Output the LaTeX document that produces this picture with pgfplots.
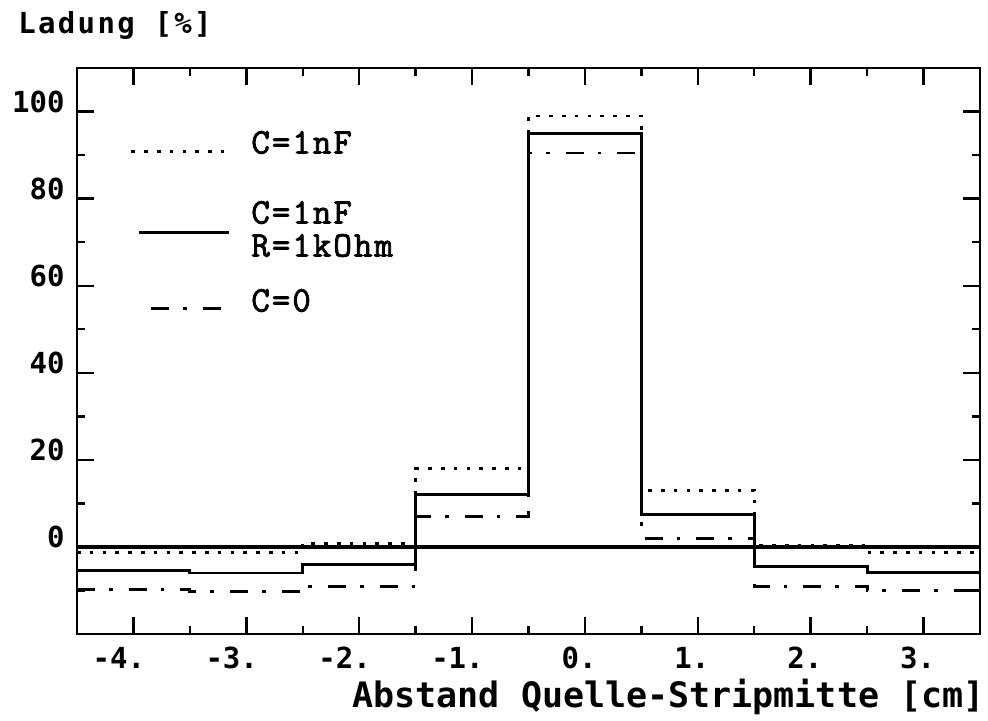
\documentclass[border=0pt]{standalone}
\usepackage{fontspec}
\usepackage{pgfplots}
\pgfplotsset{compat=1.18}

\newfontfamily\monosans{DejaVu Sans Mono}
\newfontfamily\legtt{Latin Modern Mono}[FakeBold=2.2, LetterSpace=5.5]
\newcommand\tickfont{\monosans\bfseries\fontsize{14.5pt}{17pt}\selectfont}
\newcommand\xlabfont{\monosans\bfseries\fontsize{17.5pt}{20pt}\selectfont}
\newcommand\ylabfont{\monosans\bfseries\fontsize{14.5pt}{17pt}\selectfont\addfontfeature{LetterSpace=8}}
\newcommand\legfont{\legtt\fontsize{18pt}{16.5pt}\selectfont}

% legend samples: each one spans its own stretch, text column starts at 60pt
\pgfplotsset{
  legdotted/.style={legend image code/.code={\path[draw=none,fill=none] (0pt,0pt) rectangle (60pt,0pt);
    \draw[##1] (0pt,1pt) -- (46.5pt,1pt);}},
  legsolid/.style={legend image code/.code={\path[draw=none,fill=none] (0pt,0pt) rectangle (60pt,0pt);
    \draw[##1] (4pt,0.5pt) -- (49pt,0.5pt);}},
  legdashdot/.style={legend image code/.code={\path[draw=none,fill=none] (0pt,0pt) rectangle (60pt,0pt);
    \draw[##1] (10pt,1.5pt) -- (51.5pt,1.5pt);}},
}

\begin{document}
\begin{tikzpicture}
\useasboundingbox (-38.5pt,-43pt) rectangle (455.5pt,317pt);
\begin{axis}[
  scale only axis, width=451.5pt, height=283pt,
  xmin=-4.5, xmax=3.5, ymin=-20, ymax=110,
  axis line style={line width=1.4pt},
  xtick={-4,-3,-2,-1,0,1,2,3},
  xticklabels={-4.,-3.,-2.,-1.,0.,1.,2.,3.},
  minor xtick={-3.5,-2.5,-1.5,-0.5,0.5,1.5,2.5},
  ytick={0,20,40,60,80,100},
  yticklabels={0,20,40,60,80,100},
  minor ytick={-10,10,30,50,70,90},
  tick align=inside, tick pos=both,
  major tick length=8.5pt, minor tick length=4pt,
  tick style={black, line width=1.2pt},
  ticklabel style={font=\tickfont, inner sep=0pt},
  xticklabel style={anchor=north east, xshift=6pt, yshift=-6.5pt},
  yticklabel style={anchor=east, xshift=-6pt, yshift=5pt},
  legend cell align=left,
  legend style={draw=none, fill=none, inner sep=0pt, outer sep=0pt,
    at={(axis cs:-4.031,98.4)}, anchor=north west,
    font=\legfont, nodes={inner sep=0pt, text depth=}, row sep=0pt, column sep=0pt},
]
% baseline at zero charge
\addplot[line width=1.6pt, forget plot] coordinates {(-4.5,0) (3.5,0)};

% C = 1 nF
\addplot[const plot mark left, line width=1.4pt, line cap=butt,
  dash pattern=on 1.8pt off 4.6pt, legdotted]
  coordinates {(-4.5,-1.3) (-3.5,-1.3) (-2.5,0.7) (-1.5,18) (-0.5,99)
               (0.5,13) (1.5,0.3) (2.5,-1.3) (3.5,-1.3)};
\addlegendentry{\rule[-17.5pt]{0pt}{35pt}C=1nF}

% C = 1 nF, R = 1 kOhm
\addplot[const plot mark left, line width=1.4pt, legsolid]
  coordinates {(-4.5,-5.5) (-3.5,-6) (-2.5,-4) (-1.5,12) (-0.5,95)
               (0.5,7.5) (1.5,-4.5) (2.5,-5.8) (3.5,-5.8)};
\addlegendentry{\rule[-11pt]{0pt}{45pt}{\begin{tabular}[b]{@{}l@{}}C=1nF\\R=1kOhm\end{tabular}}}

% C = 0
\addplot[const plot mark left, line width=1.4pt, line cap=butt,
  dash pattern=on 9pt off 7pt on 1.8pt off 8pt, legdashdot]
  coordinates {(-4.5,-9.8) (-3.5,-10.2) (-2.5,-9) (-1.5,7) (-0.5,90.5)
               (0.5,2) (1.5,-9) (2.5,-10) (3.5,-10)};
\addlegendentry{\rule[-16.5pt]{0pt}{33pt}C=0}
\end{axis}

\node[font=\ylabfont, anchor=base west, inner sep=0pt] at (-29.5pt,300.5pt) {Ladung [\%]};
\node[font=\xlabfont, anchor=base east, inner sep=0pt] at (454pt,-36.5pt) {Abstand Quelle-Stripmitte [cm]};
\end{tikzpicture}
\end{document}
